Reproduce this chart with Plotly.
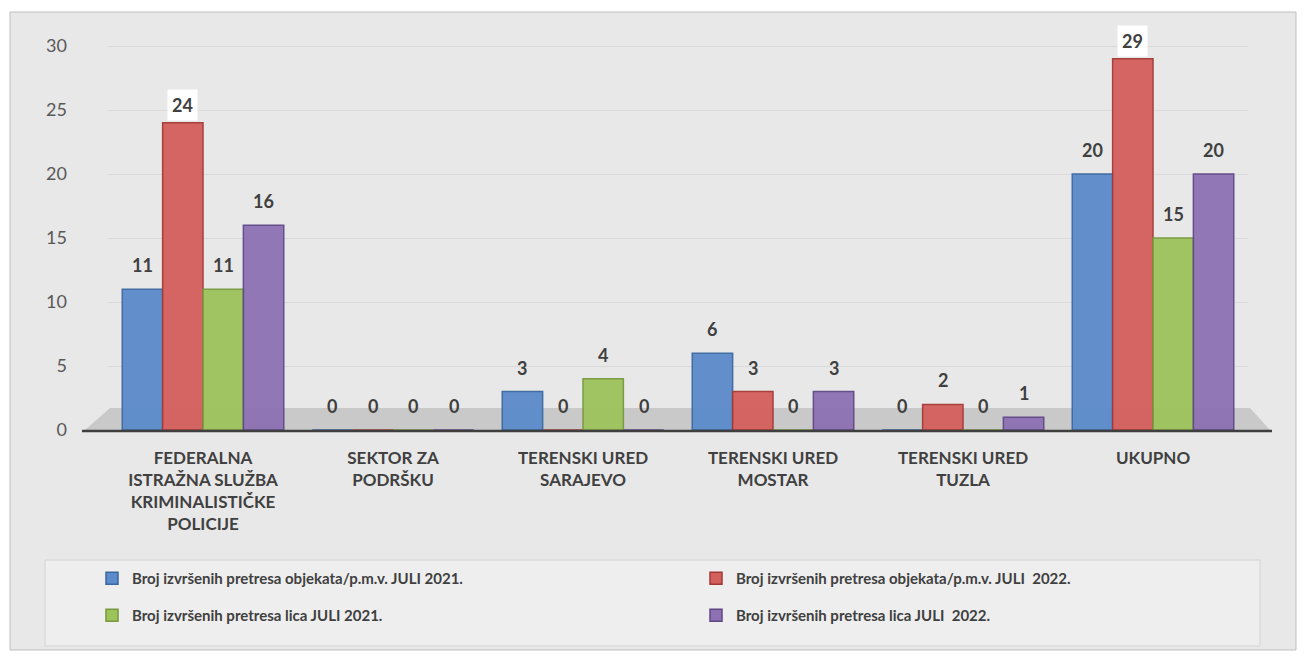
import plotly.graph_objects as go

categories = [
    "FEDERALNA<br>ISTRAŽNA SLUŽBA<br>KRIMINALISTIČKE<br>POLICIJE",
    "SEKTOR ZA<br>PODRŠKU",
    "TERENSKI URED<br>SARAJEVO",
    "TERENSKI URED<br>MOSTAR",
    "TERENSKI URED<br>TUZLA",
    "UKUPNO",
]
series_names = [
    "Broj izvršenih pretresa objekata/p.m.v. JULI 2021.",
    "Broj izvršenih pretresa objekata/p.m.v. JULI  2022.",
    "Broj izvršenih pretresa lica JULI 2021.",
    "Broj izvršenih pretresa lica JULI  2022.",
]
obj_2021 = [11, 0, 3, 6, 0, 20]
obj_2022 = [24, 0, 0, 3, 2, 29]
lica_2021 = [11, 0, 4, 0, 0, 15]
lica_2022 = [16, 0, 0, 3, 1, 20]
y_ticks = [0, 5, 10, 15, 20, 25, 30]

series_values = [obj_2021, obj_2022, lica_2021, lica_2022]
face_colors = ["#5B8BCB", "#D45F5C", "#9DC35B", "#8D71B3"]
edge_colors = ["#3A679F", "#A23835", "#77983D", "#5F4785"]
legend_ids = ["legend", "legend2", "legend3", "legend4"]

# page body has an 8px margin: figure sits at (8, 8) in the window
OFF = 8
W, H = 1306 - 2 * OFF, 659 - 2 * OFF
# plot area in window pixels
P_LEFT, P_RIGHT, P_TOP, P_BOTTOM = 108, 1248, 35, 430
L, T = P_LEFT - OFF, P_TOP - OFF
R, B = W - (P_RIGHT - OFF), H - (P_BOTTOM - OFF)
PW, PH = P_RIGHT - P_LEFT, P_BOTTOM - P_TOP
PX_PER_UNIT = 12.8
y_top = PH / PX_PER_UNIT


def px_x(px):
    return (px - P_LEFT) / PW


def px_y(py):
    return (P_BOTTOM - py) / PH


fig = go.Figure()
for i, vals in enumerate(series_values):
    fig.add_trace(go.Bar(
        x=categories, y=vals, name=series_names[i],
        marker=dict(color=face_colors[i], line=dict(color=edge_colors[i], width=1.5), opacity=0.95),
        legend=legend_ids[i],
        hoverinfo="skip",
    ))

bargap = 0.15
cat_px = PW / len(categories)
bar_px = cat_px * (1 - bargap) / len(series_values)
annotations = []
for i, vals in enumerate(series_values):
    for j, v in enumerate(vals):
        boxed = v >= 24
        annotations.append(dict(
            x=categories[j], y=v, xref="x", yref="y",
            text="<b>%d</b>" % v, showarrow=False,
            xshift=(i - 1.5) * bar_px, yshift=2 if boxed else 12,
            yanchor="bottom",
            font=dict(family="Lato, Open Sans, sans-serif", size=18, color="#404040"),
            bgcolor="white" if boxed else None,
            borderpad=4 if boxed else 0,
        ))

shapes = [
    # chart border/background
    dict(type="rect", xref="paper", yref="paper",
         x0=px_x(10), x1=px_x(1296), y0=px_y(650), y1=px_y(12),
         fillcolor="#E8E8E8", line=dict(color="#BFBFBF", width=1), layer="below"),
    # floor
    dict(type="path", xref="paper", yref="paper",
         path="M %f %f L %f %f L %f %f L %f %f Z" % (
             px_x(85), px_y(430), px_x(1270), px_y(430),
             px_x(1250), px_y(408), px_x(110), px_y(408)),
         fillcolor="#C9C9C9", line=dict(width=0), layer="below"),
    dict(type="line", xref="paper", yref="paper",
         x0=px_x(82), x1=px_x(1272), y0=px_y(431), y1=px_y(431),
         line=dict(color="#3F3F3F", width=2.5)),
    # legend box
    dict(type="rect", xref="paper", yref="paper",
         x0=px_x(45), x1=px_x(1260), y0=px_y(646), y1=px_y(560),
         fillcolor="#EEEEEE", line=dict(color="#D4D4D4", width=1), layer="below"),
]

legend_font = dict(family="Lato, Open Sans, sans-serif", size=15, color="#404040", weight="bold")
legend_pos = [(92, 562), (696, 562), (92, 599), (696, 599)]
legends = {}
for lid, (lx, ly) in zip(legend_ids, legend_pos):
    legends[lid] = dict(orientation="h", x=px_x(lx), y=px_y(ly), xanchor="left", yanchor="top",
                        itemwidth=30, font=legend_font, bgcolor="rgba(0,0,0,0)")

fig.update_layout(
    width=W, height=H,
    margin=dict(l=L, r=R, t=T, b=B, autoexpand=False),
    paper_bgcolor="white",
    plot_bgcolor="rgba(0,0,0,0)",
    barmode="group", bargap=bargap, bargroupgap=0,
    showlegend=True,
    xaxis=dict(showgrid=False, showline=False, ticks="", tickangle=0, ticklabelstandoff=16,
               tickfont=dict(family="Lato, Open Sans, sans-serif", size=17, color="#404040", weight="bold")),
    yaxis=dict(range=[0, y_top], tickvals=y_ticks, showgrid=True, gridcolor="#DADADA", gridwidth=1,
               zeroline=False, showline=False, ticklabelstandoff=40,
               tickfont=dict(family="Lato, Open Sans, sans-serif", size=18, color="#595959")),
    annotations=annotations,
    shapes=shapes,
    **legends,
)

fig.write_html("out.html")
